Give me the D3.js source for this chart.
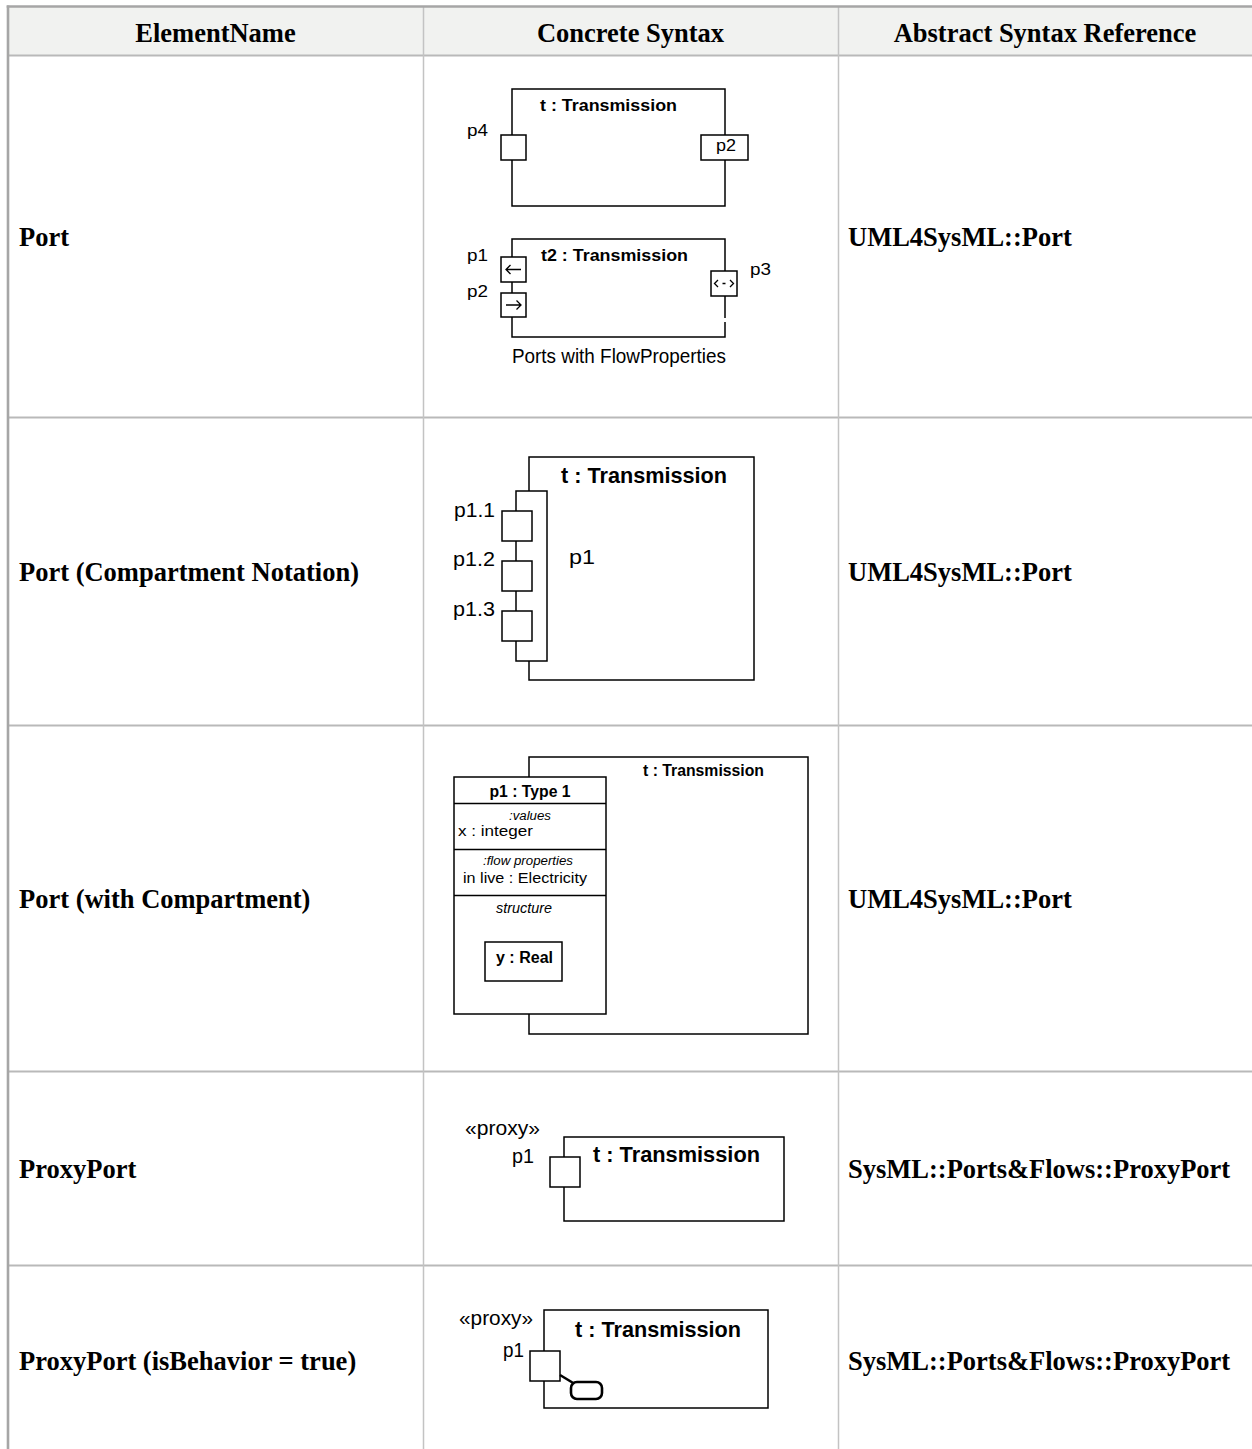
<!DOCTYPE html>
<html>
<head>
<meta charset="utf-8">
<script src="https://cdn.jsdelivr.net/npm/d3@7"></script>
<style>
  html, body { margin: 0; padding: 0; background: #ffffff; }
  svg { display: block; }
</style>
</head>
<body>
<div id="chart"></div>
<script>
// ---- data ----
const headers = ["ElementName", "Concrete Syntax", "Abstract Syntax Reference"];
const elementNames = [
  "Port",
  "Port (Compartment Notation)",
  "Port (with Compartment)",
  "ProxyPort",
  "ProxyPort (isBehavior = true)"
];
const abstractRefs = [
  "UML4SysML::Port",
  "UML4SysML::Port",
  "UML4SysML::Port",
  "SysML::Ports&Flows::ProxyPort",
  "SysML::Ports&Flows::ProxyPort"
];
const rowKeys = ["port", "compartmentNotation", "withCompartment", "proxy", "proxyBehavior"];

// ---- layout ----
const W = 1252, H = 1449;
const colEdges = [8, 423, 838, 1252];
const headerTop = 7, headerBottom = 55.5;
const rowBottoms = [417.5, 725.5, 1071.5, 1265.5, 1457];
const serif = "'Liberation Serif', 'Times New Roman', serif";
const sans = "'Liberation Sans', Arial, Helvetica, sans-serif";

const svg = d3.select("#chart").append("svg")
  .attr("width", W).attr("height", H)
  .attr("viewBox", `0 0 ${W} ${H}`);

// header background
svg.append("rect")
  .attr("x", colEdges[0]).attr("y", headerTop)
  .attr("width", W - colEdges[0]).attr("height", headerBottom - headerTop)
  .attr("fill", "#f1f2f0");

// row lines
const rowLineYs = [headerBottom].concat(rowBottoms.slice(0, -1));
svg.selectAll("line.row").data(rowLineYs).join("line")
  .attr("class", "row")
  .attr("x1", colEdges[0]).attr("x2", W)
  .attr("y1", d => d).attr("y2", d => d)
  .attr("stroke", "#b9b9b9").attr("stroke-width", 2);

// column lines
svg.selectAll("line.col").data(colEdges.slice(1, 3)).join("line")
  .attr("class", "col")
  .attr("x1", d => d + 0.5).attr("x2", d => d + 0.5)
  .attr("y1", headerTop).attr("y2", H)
  .attr("stroke", "#c3c3c3").attr("stroke-width", 1.5);

// outer border (left & top)
svg.append("line").attr("x1", 8).attr("x2", 8).attr("y1", 5.5).attr("y2", H)
  .attr("stroke", "#a6a6a6").attr("stroke-width", 2.6);
svg.append("line").attr("x1", 6.7).attr("x2", W).attr("y1", 6.5).attr("y2", 6.5)
  .attr("stroke", "#a6a6a6").attr("stroke-width", 2.4);

// header texts
svg.selectAll("text.hdr").data(headers).join("text")
  .attr("class", "hdr")
  .attr("x", (d, i) => (colEdges[i] + colEdges[i + 1]) / 2)
  .attr("y", 41.5)
  .attr("text-anchor", "middle")
  .attr("font-family", serif).attr("font-weight", "bold").attr("font-size", 26.5)
  .attr("fill", "#000")
  .text(d => d);

// row texts
const rowTops = [headerBottom].concat(rowBottoms.slice(0, -1));
const rowCenters = rowTops.map((t, i) => (t + rowBottoms[i]) / 2);
rowCenters[4] = 1361;
svg.selectAll("text.name").data(elementNames).join("text")
  .attr("class", "name")
  .attr("x", 19).attr("y", (d, i) => rowCenters[i] + 9)
  .attr("font-family", serif).attr("font-weight", "bold").attr("font-size", 26.5)
  .text(d => d);
svg.selectAll("text.ref").data(abstractRefs).join("text")
  .attr("class", "ref")
  .attr("x", 848).attr("y", (d, i) => rowCenters[i] + 9)
  .attr("font-family", serif).attr("font-weight", "bold").attr("font-size", 26.5)
  .text(d => d);

// ---- diagram helpers ----
const dg = svg.append("g").attr("class", "diagrams");
function box(g, x0, y0, x1, y1, opt = {}) {
  return g.append("rect")
    .attr("x", x0).attr("y", y0).attr("width", x1 - x0).attr("height", y1 - y0)
    .attr("rx", opt.rx || 0)
    .attr("fill", opt.fill || "#fff")
    .attr("stroke", "#000").attr("stroke-width", opt.sw || 1.5);
}
function path(g, d, sw) {
  return g.append("path").attr("d", d).attr("fill", "none")
    .attr("stroke", "#000").attr("stroke-width", sw || 1.5);
}
function label(g, x, y, str, opt = {}) {
  const t = g.append("text")
    .attr("x", x).attr("y", y)
    .attr("font-family", sans)
    .attr("font-size", opt.size || 15)
    .attr("font-weight", opt.bold ? "bold" : "normal")
    .attr("font-style", opt.italic ? "italic" : "normal")
    .attr("text-anchor", opt.anchor || "start")
    .attr("fill", "#000")
    .text(str);
  if (opt.width) t.attr("textLength", opt.width).attr("lengthAdjust", "spacingAndGlyphs");
  return t;
}

const draw = {
  port(g) {
    // block t
    box(g, 512, 89, 725, 206);
    box(g, 501, 135, 526, 160);
    box(g, 701, 135, 748, 160);
    label(g, 540, 111, "t : Transmission", { bold: true, size: 17, width: 137 });
    label(g, 467, 136, "p4", { size: 16.5, width: 21 });
    label(g, 716, 151, "p2", { size: 16.5, width: 20 });
    // block t2 with flow ports
    path(g, "M725,318 V239 H512 V337 H725 V322");
    box(g, 501, 257, 526, 282);
    box(g, 501, 293, 526, 317);
    box(g, 711, 271, 737, 296);
    path(g, "M506,269.5 H521 M510.5,265 L506,269.5 L510.5,274", 1.3);
    path(g, "M506,305 H521 M516.5,300.5 L521,305 L516.5,309.5", 1.3);
    path(g, "M718,280 L714.5,283.5 L718,287 M730,280 L733.5,283.5 L730,287 M722.5,283.5 H725.5", 1.3);
    label(g, 541, 261, "t2 : Transmission", { bold: true, size: 17, width: 147 });
    label(g, 467, 261, "p1", { size: 16.5, width: 21 });
    label(g, 467, 296.5, "p2", { size: 16.5, width: 21 });
    label(g, 750, 275, "p3", { size: 16.5, width: 21 });
    label(g, 512, 363, "Ports with FlowProperties", { size: 19.5, width: 214 });
  },
  compartmentNotation(g) {
    box(g, 529, 457, 754, 680);
    box(g, 516, 491, 547, 661);
    [511, 561, 611].forEach(y => box(g, 502, y, 532, y + 30));
    label(g, 561, 483, "t : Transmission", { bold: true, size: 21.5, width: 166 });
    label(g, 454, 516.5, "p1.1", { size: 20, width: 41 });
    label(g, 453, 565.5, "p1.2", { size: 20, width: 42 });
    label(g, 453, 615.5, "p1.3", { size: 20, width: 42 });
    label(g, 569, 563.5, "p1", { size: 20, width: 26 });
  },
  withCompartment(g) {
    box(g, 529, 757, 808, 1034);
    box(g, 454, 777, 606, 1014);
    [803.5, 849.5, 895.5].forEach(y => path(g, `M454,${y} H606`));
    label(g, 643, 776, "t : Transmission", { bold: true, size: 16, width: 121 });
    label(g, 530, 797, "p1 : Type 1", { bold: true, size: 16, anchor: "middle", width: 81 });
    label(g, 530, 819.5, ":values", { italic: true, size: 12, anchor: "middle", width: 42 });
    label(g, 458, 836, "x : integer", { size: 15.5, width: 75 });
    label(g, 528, 864.5, ":flow properties", { italic: true, size: 12, anchor: "middle", width: 90 });
    label(g, 463, 882.5, "in live : Electricity", { size: 15.5, width: 124 });
    label(g, 524, 913, "structure", { italic: true, size: 14, anchor: "middle", width: 56 });
    box(g, 485, 942, 562, 981);
    label(g, 496, 963, "y : Real", { bold: true, size: 16, width: 57 });
  },
  proxy(g) {
    box(g, 564, 1137, 784, 1221);
    box(g, 550, 1157, 580, 1187);
    label(g, 465, 1135, "«proxy»", { size: 20, width: 75 });
    label(g, 512, 1163, "p1", { size: 20, width: 22 });
    label(g, 593, 1162, "t : Transmission", { bold: true, size: 21.5, width: 167 });
  },
  proxyBehavior(g) {
    box(g, 544, 1310, 768, 1408);
    box(g, 530, 1351, 560, 1381);
    path(g, "M560,1375 L574,1383.5", 2.6);
    box(g, 571, 1382, 602, 1399, { rx: 6, sw: 2.6 });
    label(g, 459, 1325, "«proxy»", { size: 20, width: 74 });
    label(g, 503, 1357, "p1", { size: 20, width: 21 });
    label(g, 575, 1337, "t : Transmission", { bold: true, size: 21.5, width: 166 });
  }
};
rowKeys.forEach(k => draw[k](dg.append("g").attr("class", k)));
</script>
</body>
</html>
